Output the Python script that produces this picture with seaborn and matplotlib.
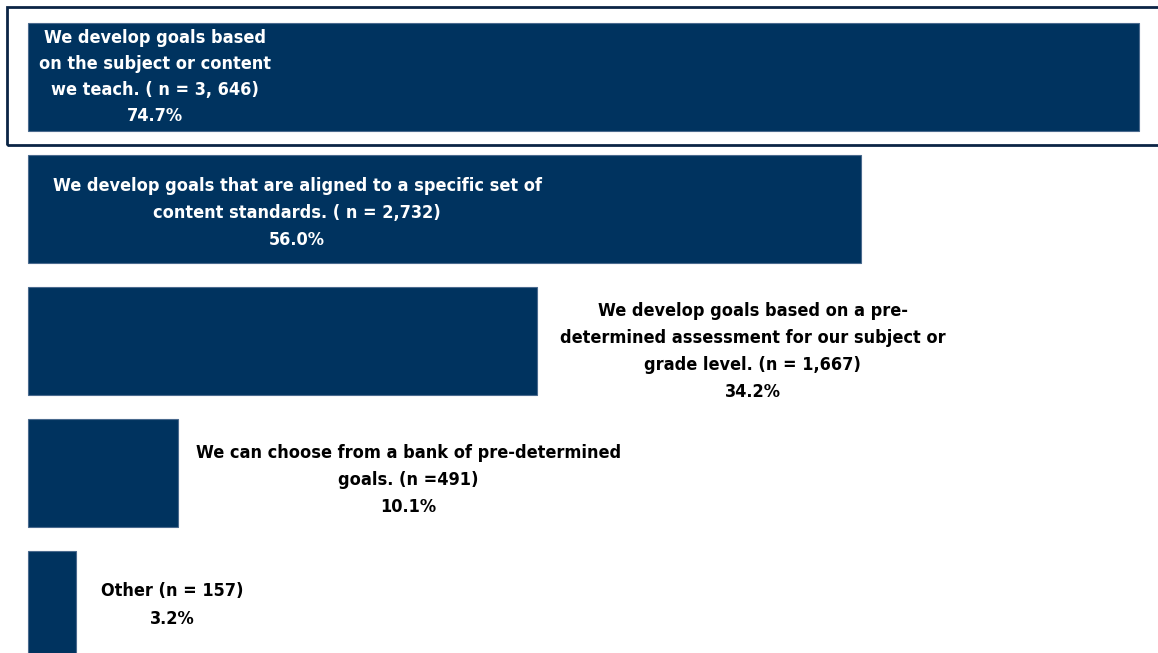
import matplotlib
matplotlib.use("Agg")
import matplotlib.pyplot as plt
import seaborn as sns
import pandas as pd
from matplotlib.patches import Rectangle

categories = [
    "We develop goals based\non the subject or content\nwe teach. ( n = 3, 646)",
    "We develop goals that are aligned to a specific set of\ncontent standards. ( n = 2,732)",
    "We develop goals based on a pre-\ndetermined assessment for our subject or\ngrade level. (n = 1,667)",
    "We can choose from a bank of pre-determined\ngoals. (n =491)",
    "Other (n = 157)",
]
values = [74.7, 56.0, 34.2, 10.1, 3.2]
label_x = [8.54, 18.1, 48.75, 25.6, 9.7]
label_dy = [0.0, 0.03, 0.08, 0.05, 0.0]
label_color = ["white", "white", "black", "black", "black"]
label_ls = [1.55, 1.65, 1.65, 1.65, 1.65]

df = pd.DataFrame({"cat": categories, "val": values})

sns.set_theme(style="white")
plt.rcParams['font.family'] = ['DejaVu Sans']

fig = plt.figure(figsize=(11.58, 6.53), dpi=100)
ax = fig.add_axes([0, 0, 1, 1])
bar_color = "#00335f"
sns.barplot(data=df, x="val", y="cat", orient="h", color=bar_color,
            saturation=1, width=108/132, ax=ax, edgecolor="#4a6a8e", linewidth=0.8)

ax.set_xlim(-28/14.87, (1158-28)/14.87)
ax.set_ylim((653-77)/132, -77/132)
ax.axis("off")

for i, (cat, v) in enumerate(zip(categories, values)):
    ax.text(label_x[i], i + label_dy[i], f"{cat}\n{v:.1f}%", ha="center", va="center",
            color=label_color[i], fontsize=13, fontweight="bold", fontstretch="condensed",
            linespacing=label_ls[i])

# frame around top bar
fig.patches.append(Rectangle((7/1158, 1 - 145/653), 1.2, (145-7)/653,
                             transform=fig.transFigure, fill=False,
                             edgecolor="#0b2545", linewidth=2))

fig.savefig("out.png", dpi=100)
